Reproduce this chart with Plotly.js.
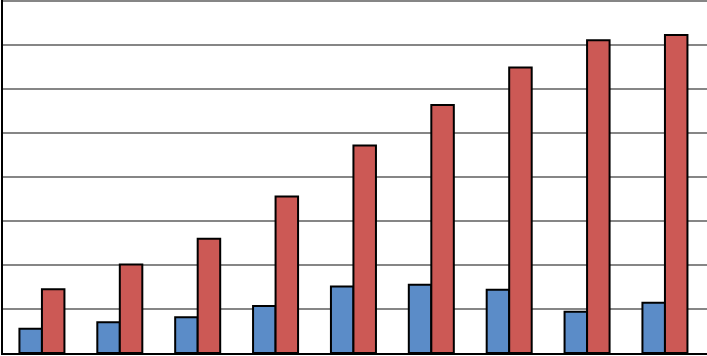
<!DOCTYPE html>
<html>
<head>
<meta charset="utf-8">
<script src="https://cdn.plot.ly/plotly-3.0.1.min.js"></script>
<style>html,body{margin:0;padding:0;background:#fff;}#chart{width:707px;height:356px;}</style>
</head>
<body>
<div id="chart"></div>
<script>
const categories = ["1", "2", "3", "4", "5", "6", "7", "8", "9"];
const seriesBlue = [5.5, 7.0, 8.1, 10.7, 15.1, 15.5, 14.4, 9.4, 11.4];
const seriesRed = [14.5, 20.1, 26.0, 35.6, 47.2, 56.4, 64.9, 71.1, 72.3];

const traces = [
  {type: 'bar', x: categories, y: seriesBlue, name: 'Series 1',
   marker: {color: '#5B8CC8', line: {color: '#000000', width: 2}}},
  {type: 'bar', x: categories, y: seriesRed, name: 'Series 2',
   marker: {color: '#CC5955', line: {color: '#000000', width: 2}}}
];

const layout = {
  width: 707, height: 356,
  margin: {l: 3, r: 0, t: 0, b: 3, pad: 0},
  paper_bgcolor: '#ffffff', plot_bgcolor: '#ffffff',
  showlegend: false,
  barmode: 'group', bargap: 0.422, bargroupgap: 0,
  xaxis: {type: 'category', range: [-0.5, 8.54], showticklabels: false, ticks: '',
          showgrid: false, zeroline: false, showline: true, linecolor: '#000000', linewidth: 2},
  yaxis: {range: [0, 80.25], dtick: 10, showticklabels: false, ticks: '',
          showgrid: true, gridcolor: '#868686', gridwidth: 2, zeroline: false,
          showline: true, linecolor: '#000000', linewidth: 2}
};

Plotly.newPlot('chart', traces, layout, {staticPlot: true, displayModeBar: false});
</script>
</body>
</html>
